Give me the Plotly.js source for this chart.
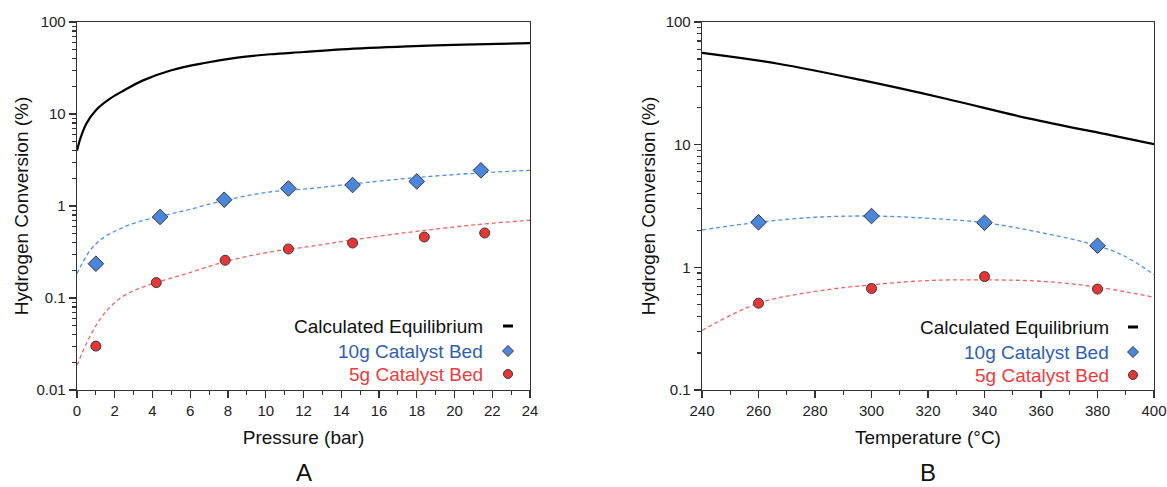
<!DOCTYPE html>
<html>
<head>
<meta charset="utf-8">
<script src="https://cdn.plot.ly/plotly-3.0.1.min.js"></script>
<style>html,body{margin:0;padding:0;background:#fff;}#chart{width:1167px;height:487px;}</style>
</head>
<body>
<div id="chart"></div>
<script>
// ---- Panel A: pressure ----
const pressEqX = [0, 0.2, 0.5, 1, 1.75, 2.5, 3.5, 5, 6.75, 8.5, 10.25, 12, 14, 17.5, 20.5, 24];
const pressEqY = [4.0, 5.6, 7.9, 11, 14.7, 18.1, 23.2, 29.9, 35.8, 41, 44.6, 47.2, 50.5, 54.4, 56.8, 59];
const press10X = [1.0, 4.4, 7.8, 11.2, 14.6, 18.0, 21.4];
const press10Y = [0.236, 0.76, 1.17, 1.55, 1.69, 1.85, 2.44];
const press5X = [1.0, 4.2, 7.85, 11.2, 14.6, 18.4, 21.6];
const press5Y = [0.030, 0.147, 0.257, 0.341, 0.396, 0.46, 0.509];
const pressFit10X = [0, 0.7, 1.4, 2.3, 3.2, 4.4, 5.8, 7.8, 10.2, 12.4, 14.7, 18, 21.4, 24];
const pressFit10Y = [0.184, 0.33, 0.453, 0.567, 0.67, 0.77, 0.90, 1.15, 1.42, 1.55, 1.75, 2.04, 2.29, 2.44];
const pressFit5X = [0, 0.5, 1, 1.5, 2.3, 3.2, 4.2, 5.8, 7.9, 10.2, 12.4, 14.7, 18, 21.4, 24];
const pressFit5Y = [0.0186, 0.032, 0.05, 0.07, 0.1, 0.125, 0.147, 0.184, 0.25, 0.316, 0.365, 0.431, 0.531, 0.633, 0.70];

// ---- Panel B: temperature ----
const tempEqX = [240, 267, 297, 326, 356, 385, 400];
const tempEqY = [56, 45.7, 33.4, 23.8, 16.3, 11.9, 10.1];
const temp10X = [260, 300, 340, 380];
const temp10Y = [2.33, 2.62, 2.31, 1.50];
const temp5X = [260, 300, 340, 380];
const temp5Y = [0.51, 0.672, 0.84, 0.665];
const tempFit10X = [240, 260, 280, 300, 320, 340, 360, 380, 390, 400];
const tempFit10Y = [2.02, 2.33, 2.56, 2.62, 2.51, 2.31, 1.92, 1.50, 1.22, 0.87];
const tempFit5X = [240, 260, 280, 300, 320, 340, 360, 380, 400];
const tempFit5Y = [0.306, 0.51, 0.636, 0.72, 0.78, 0.79, 0.77, 0.69, 0.57];

const legendNames = ["Calculated Equilibrium", "10g Catalyst Bed", "5g Catalyst Bed"];
const legendColors = ["#111111", "#2f5fae", "#f03c3c"];

const BLUE_LINE = "#4f8ff0", RED_LINE = "#f06464";
const BLUE_MK = "#4a86dc", RED_MK = "#e83636";

function fitTrace(x, y, color, xa, ya) {
  return {x, y, xaxis: xa, yaxis: ya, mode: "lines", type: "scatter",
    line: {color, width: 1.3, dash: "4px,3px", shape: "spline"}, hoverinfo: "skip", showlegend: false};
}
function eqTrace(x, y, xa, ya) {
  return {x, y, xaxis: xa, yaxis: ya, mode: "lines", type: "scatter",
    line: {color: "#000", width: 2.2, shape: "spline"}, showlegend: false, name: legendNames[0]};
}
function ptTrace(x, y, symbol, color, size, xa, ya, name) {
  return {x, y, xaxis: xa, yaxis: ya, mode: "markers", type: "scatter", name,
    marker: {symbol, color, size, line: {color: "#3a3a3a", width: 1}}, showlegend: false};
}

const data = [
  fitTrace(pressFit10X, pressFit10Y, BLUE_LINE, "x", "y"),
  fitTrace(pressFit5X, pressFit5Y, RED_LINE, "x", "y"),
  eqTrace(pressEqX, pressEqY, "x", "y"),
  ptTrace(press10X, press10Y, "diamond", BLUE_MK, 12, "x", "y", legendNames[1]),
  ptTrace(press5X, press5Y, "circle", RED_MK, 10, "x", "y", legendNames[2]),
  fitTrace(tempFit10X, tempFit10Y, BLUE_LINE, "x2", "y2"),
  fitTrace(tempFit5X, tempFit5Y, RED_LINE, "x2", "y2"),
  eqTrace(tempEqX, tempEqY, "x2", "y2"),
  ptTrace(temp10X, temp10Y, "diamond", BLUE_MK, 12, "x2", "y2", legendNames[1]),
  ptTrace(temp5X, temp5Y, "circle", RED_MK, 10, "x2", "y2", legendNames[2])
];

const FONT = "Liberation Sans, Arial, sans-serif";
const AX = "#333333";
function xAxis(domain, range, dtick, minorDtick, title, anchor) {
  return {domain, range, dtick, tick0: range[0], anchor, showgrid: false, zeroline: false,
    showline: true, linecolor: AX, linewidth: 1.3, mirror: true,
    ticks: "outside", ticklen: 7, tickwidth: 1.2, tickcolor: AX, ticklabeloverflow: "allow",
    minor: {dtick: minorDtick, ticks: "outside", ticklen: 4, tickwidth: 1.2, tickcolor: AX, showgrid: false},
    tickfont: {family: FONT, size: 15, color: "#222"},
    title: {text: title, font: {family: FONT, size: 19, color: "#111"}, standoff: 12}};
}
function yAxis(range, anchor, standoff) {
  return {type: "log", range, dtick: 1, anchor, showgrid: false, zeroline: false,
    showline: true, linecolor: AX, linewidth: 1.3, mirror: true,
    ticks: "outside", ticklen: 7, tickwidth: 1.2, tickcolor: AX,
    minor: {dtick: "D1", ticks: "outside", ticklen: 4, tickwidth: 1.2, tickcolor: AX, showgrid: false},
    tickfont: {family: FONT, size: 15, color: "#222"},
    title: {text: "Hydrogen Conversion (%)", font: {family: FONT, size: 19, color: "#111"}, standoff}};
}

const W = 1167, H = 487, ML = 77, MR = 13, MT = 22, MB = 97;
const PW = W - ML - MR, PH = H - MT - MB;
const px = v => (v - ML) / PW;
const py = v => (H - MB - v) / PH;

// custom legend: text right-aligned, symbol to the right
function legendItems(textRight, symX, rows) {
  const ann = [], shp = [];
  rows.forEach((r, i) => {
    ann.push({xref: "paper", yref: "paper", x: px(textRight), y: py(r), xanchor: "right", yanchor: "middle",
      text: legendNames[i], showarrow: false, font: {family: FONT, size: 19, color: legendColors[i]}});
  });
  shp.push({type: "line", xref: "paper", yref: "paper", x0: px(symX - 5), x1: px(symX + 5), y0: py(rows[0]), y1: py(rows[0]),
    line: {color: "#000", width: 3}});
  const d = 5.5;
  shp.push({type: "path", xref: "paper", yref: "paper",
    path: `M ${px(symX)} ${py(rows[1] - d)} L ${px(symX + d)} ${py(rows[1])} L ${px(symX)} ${py(rows[1] + d)} L ${px(symX - d)} ${py(rows[1])} Z`,
    fillcolor: BLUE_MK, line: {color: "#3a3a3a", width: 1}});
  const r = 4.5;
  shp.push({type: "circle", xref: "paper", yref: "paper", x0: px(symX - r), x1: px(symX + r), y0: py(rows[2] + r), y1: py(rows[2] - r),
    fillcolor: RED_MK, line: {color: "#3a3a3a", width: 1}});
  return {ann, shp};
}
const legA = legendItems(485, 508, [326, 351, 374]);
const legB = legendItems(1111, 1133, [327, 352, 375]);

const layout = {
  width: W, height: H, margin: {l: ML, r: MR, t: MT, b: MB},
  paper_bgcolor: "#fff", plot_bgcolor: "#fff", showlegend: false,
  font: {family: FONT},
  xaxis: xAxis([0, px(530)], [0, 24], 2, 1, "Pressure (bar)", "y"),
  yaxis: yAxis([-2, 2], "x", 2),
  xaxis2: xAxis([px(702), 1], [240, 400], 20, 10, "Temperature (°C)", "y2"),
  yaxis2: yAxis([-1, 2], "x2", 5),
  annotations: [
    ...legA.ann, ...legB.ann,
    {xref: "paper", yref: "paper", x: px(304), y: py(488), text: "A", showarrow: false, xanchor: "center", yanchor: "bottom",
      font: {family: FONT, size: 24, color: "#111"}},
    {xref: "paper", yref: "paper", x: px(928), y: py(488), text: "B", showarrow: false, xanchor: "center", yanchor: "bottom",
      font: {family: FONT, size: 24, color: "#111"}}
  ],
  shapes: [...legA.shp, ...legB.shp]
};

Plotly.newPlot("chart", data, layout, {displayModeBar: false, staticPlot: true});
</script>
</body>
</html>
